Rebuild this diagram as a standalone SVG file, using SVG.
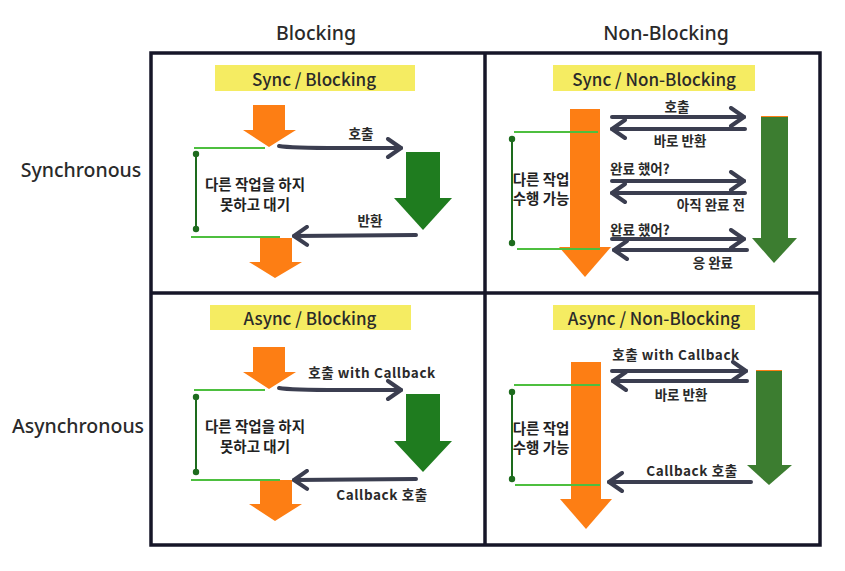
<svg xmlns="http://www.w3.org/2000/svg" width="845" height="571" viewBox="0 0 845 571">
<style>
.hdr{font-family:"Noto Sans","Open Sans",sans-serif;font-size:19.5px;font-weight:500;fill:#2a2a2a;text-anchor:middle;dominant-baseline:central}
.ttl{font-family:"Noto Sans CJK KR","Noto Sans",sans-serif;font-size:17px;font-weight:500;fill:#2a2a2a;text-anchor:middle;dominant-baseline:central}
.lbl{font-family:"Noto Sans CJK KR","Noto Sans",sans-serif;font-size:13.5px;font-weight:700;fill:#2a2a2a;dominant-baseline:central}
.cb{letter-spacing:0.6px}
.txt{font-family:"Noto Sans CJK KR","Noto Sans",sans-serif;font-size:14.5px;font-weight:700;fill:#222;text-anchor:middle;dominant-baseline:central}
.tbox{fill:#f5ec62}
.org{fill:#fd7e14}
.grn{fill:#1f7c1f}
.grn2{fill:#3c7d30}
.gl{stroke:#4dbf3f;stroke-width:2;fill:none}
.br{stroke:#1d6b1d;stroke-width:2;fill:none}
.dot{fill:#1d6b1d}
.conn{stroke:#3b3e50;stroke-width:4;fill:none;stroke-linecap:round;marker-end:url(#head)}
.frame{stroke:#161628;stroke-width:3.5;fill:#fff}
</style>
<defs>
<marker id="head" viewBox="0 0 18 22" refX="16" refY="11" markerWidth="18" markerHeight="22" markerUnits="userSpaceOnUse" orient="auto">
<path d="M3,2 L16,11 L3,20" fill="none" stroke="#3b3e50" stroke-width="4" stroke-linecap="round" stroke-linejoin="round"/>
</marker>
</defs>
<rect width="845" height="571" fill="#fff"/>
<g id="grid">
<rect class="frame" x="151" y="53" width="669" height="492"/>
<line x1="485" y1="53" x2="485" y2="545" stroke="#161628" stroke-width="3.5"/>
<line x1="151" y1="293" x2="820" y2="293" stroke="#161628" stroke-width="3.5"/>
</g>
<g id="headers">
<text class="hdr" x="316" y="32">Blocking</text>
<text class="hdr" x="666" y="32">Non-Blocking</text>
<text class="hdr" x="81" y="169">Synchronous</text>
<text class="hdr" x="78" y="425">Asynchronous</text>
</g>

<!-- Sync / Blocking -->
<g id="sync-blocking">
<rect class="tbox" x="215" y="65" width="200" height="26"/>
<text class="ttl" x="314" y="78">Sync / Blocking</text>
<polygon class="org" points="253,105 285,105 285,130 296,130 269,147 243,130 253,130"/>
<rect class="grn" x="406" y="152" width="34" height="46"/>
<polygon class="grn" points="394,198 452,198 423,230"/>
<polygon class="org" points="260,238 292,238 292,262 302,262 275,278 249,262 260,262"/>
<line class="gl" x1="194" y1="148" x2="265" y2="148"/>
<line class="gl" x1="191" y1="237" x2="280" y2="237"/>
<line class="br" x1="196" y1="154" x2="196" y2="229"/>
<circle class="dot" cx="196" cy="154" r="3.2"/>
<circle class="dot" cx="196" cy="229" r="3.2"/>
<text class="txt" x="255" y="183">다른 작업을 하지</text>
<text class="txt" x="255" y="203">못하고 대기</text>
<text class="lbl" x="361" y="133" text-anchor="middle">호출</text>
<text class="lbl" x="370" y="220" text-anchor="middle">반환</text>
</g>

<!-- Sync / Non-Blocking -->
<g id="sync-nonblocking">
<rect class="tbox" x="553" y="65" width="202" height="26"/>
<text class="ttl" x="654" y="78">Sync / Non-Blocking</text>
<rect class="org" x="570" y="109" width="30" height="138"/>
<polygon class="org" points="559,247 611,247 585,277"/>
<rect class="grn2" x="761" y="116" width="27" height="122"/>
<line x1="761" y1="116.5" x2="788" y2="116.5" stroke="#fd7e14" stroke-width="1"/>
<polygon class="grn2" points="752,238 797,238 774,263"/>
<line class="gl" x1="514" y1="132" x2="598" y2="132"/>
<line class="gl" x1="517" y1="249" x2="600" y2="249"/>
<line class="br" x1="512" y1="139" x2="512" y2="243"/>
<circle class="dot" cx="512" cy="139" r="3.2"/>
<circle class="dot" cx="512" cy="243" r="3.2"/>
<text class="txt" x="541" y="178">다른 작업</text>
<text class="txt" x="541" y="197">수행 가능</text>
<text class="lbl" x="677" y="106" text-anchor="middle">호출</text>
<text class="lbl" x="680" y="140" text-anchor="middle">바로 반환</text>
<text class="lbl" x="610" y="168">완료 했어?</text>
<text class="lbl" x="745" y="204" text-anchor="end">아직 완료 전</text>
<text class="lbl" x="610" y="229">완료 했어?</text>
<text class="lbl" x="733" y="262" text-anchor="end">응 완료</text>
</g>

<!-- Async / Blocking -->
<g id="async-blocking">
<rect class="tbox" x="210" y="305" width="201" height="25"/>
<text class="ttl" x="310" y="317">Async / Blocking</text>
<polygon class="org" points="253,347 285,347 285,372 296,372 269,389 243,372 253,372"/>
<rect class="grn" x="406" y="394" width="34" height="47"/>
<polygon class="grn" points="394,441 452,441 423,472"/>
<polygon class="org" points="260,480 292,480 292,504 302,504 275,521 249,504 260,504"/>
<line class="gl" x1="194" y1="390" x2="265" y2="390"/>
<line class="gl" x1="191" y1="480" x2="280" y2="480"/>
<line class="br" x1="196" y1="397" x2="196" y2="472"/>
<circle class="dot" cx="196" cy="397" r="3.2"/>
<circle class="dot" cx="196" cy="472" r="3.2"/>
<text class="txt" x="255" y="425">다른 작업을 하지</text>
<text class="txt" x="255" y="445">못하고 대기</text>
<text class="lbl cb" x="372" y="372" text-anchor="middle">호출 with Callback</text>
<text class="lbl cb" x="382" y="494" text-anchor="middle">Callback 호출</text>
</g>

<!-- Async / Non-Blocking -->
<g id="async-nonblocking">
<rect class="tbox" x="553" y="305" width="202" height="25"/>
<text class="ttl" x="654" y="317">Async / Non-Blocking</text>
<rect class="org" x="571" y="362" width="30" height="137"/>
<polygon class="org" points="560,499 612,499 586,529"/>
<rect class="grn2" x="756" y="370" width="26" height="95"/>
<line x1="756" y1="370.5" x2="782" y2="370.5" stroke="#fd7e14" stroke-width="1"/>
<polygon class="grn2" points="747,465 792,465 769,485"/>
<line class="gl" x1="514" y1="385" x2="600" y2="385"/>
<line class="gl" x1="515" y1="485" x2="600" y2="485"/>
<line class="br" x1="512" y1="392" x2="512" y2="479"/>
<circle class="dot" cx="512" cy="392" r="3.2"/>
<circle class="dot" cx="512" cy="479" r="3.2"/>
<text class="txt" x="541" y="427">다른 작업</text>
<text class="txt" x="541" y="446">수행 가능</text>
<text class="lbl cb" x="676" y="354" text-anchor="middle">호출 with Callback</text>
<text class="lbl" x="681" y="394" text-anchor="middle">바로 반환</text>
<text class="lbl cb" x="692" y="470" text-anchor="middle">Callback 호출</text>
</g>

<g id="connectors">
<path class="conn" d="M279,146 Q290,148 340,148 L401,148"/>
<path class="conn" d="M416,235 L294,236"/>
<path class="conn" d="M612,117 L744,117"/>
<path class="conn" d="M745,129 L612,129"/>
<path class="conn" d="M612,181 L744,181"/>
<path class="conn" d="M745,193 L612,193"/>
<path class="conn" d="M612,239 L744,239"/>
<path class="conn" d="M747,250 L614,250"/>
<path class="conn" d="M279,388 Q290,390 340,390 L401,390"/>
<path class="conn" d="M416,479 L294,480"/>
<path class="conn" d="M612,371 L746,371"/>
<path class="conn" d="M747,381 L613,381"/>
<path class="conn" d="M751,482 L609,482"/>
</g>
</svg>
